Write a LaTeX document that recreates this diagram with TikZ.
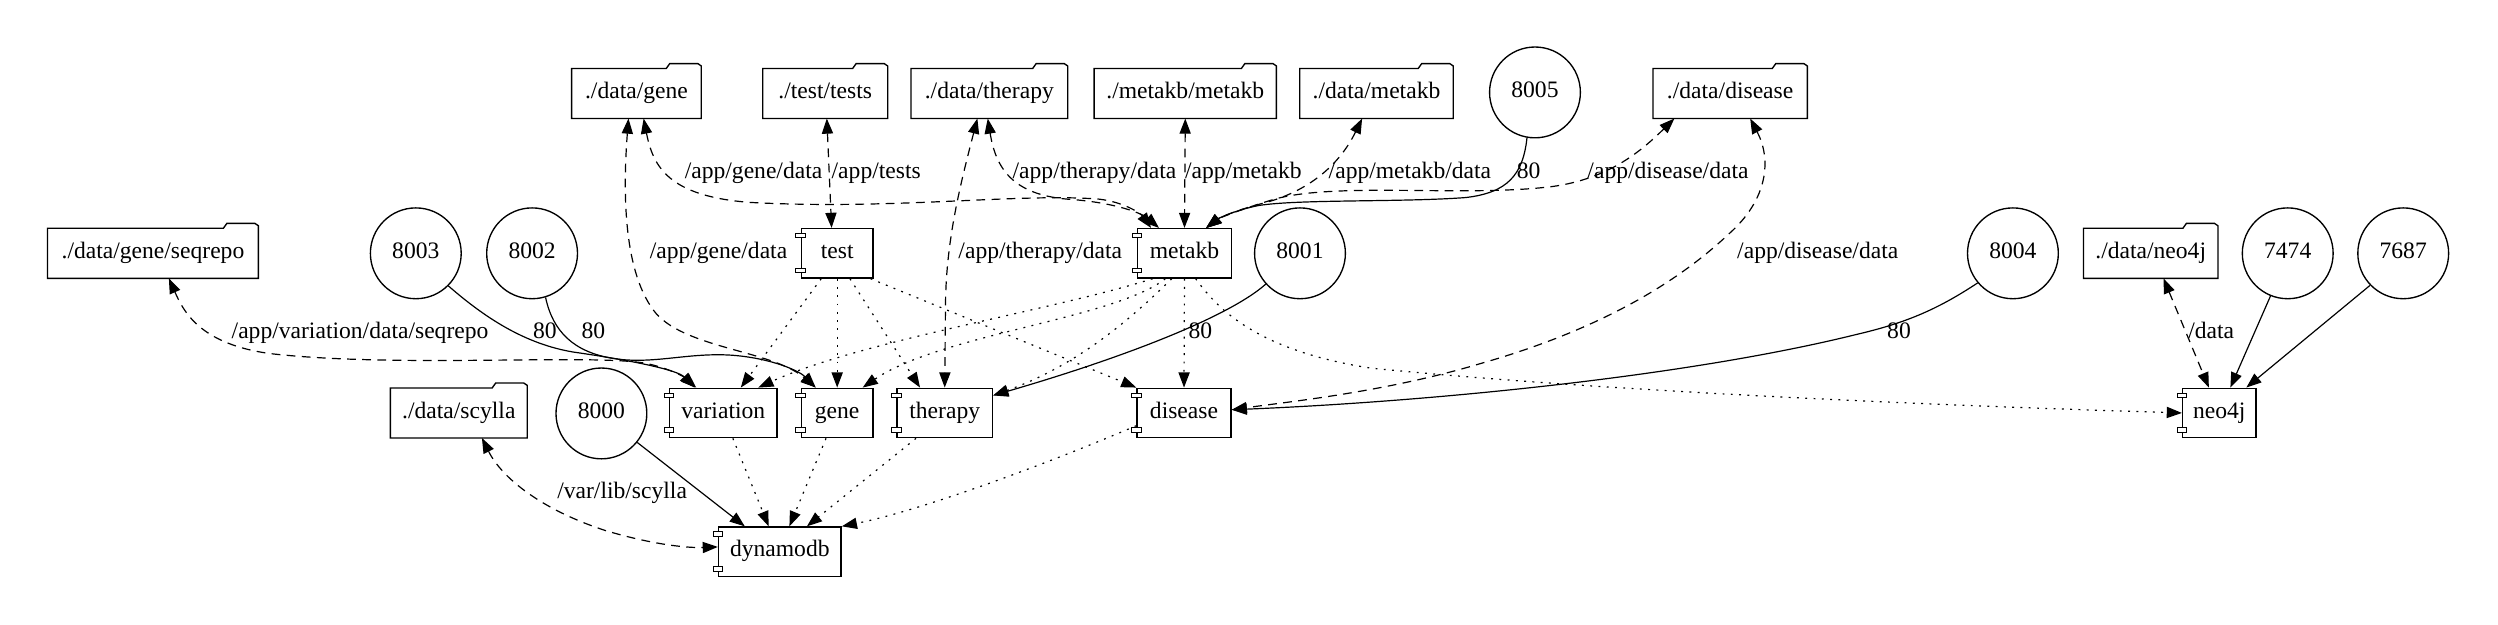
\documentclass[tikz,border=0pt]{standalone}
\usepackage{fontspec}
\setmainfont{Liberation Serif}
\usetikzlibrary{arrows.meta}
\begin{document}
\begin{tikzpicture}[x=1pt,y=-1pt,
  every node/.style={font=\fontsize{14.8}{17}\selectfont, inner sep=0pt, text height=10pt, text depth=3.5pt},
  folder/.style={minimum height=31pt},
  comp/.style={draw, line width=0.85pt, minimum height=31pt},
  port/.style={draw, circle, line width=0.85pt, minimum size=57pt},
  tip/.style={Triangle[length=9.5pt,width=7pt]},
  vol/.style={line width=0.75pt, dash pattern=on 5.5pt off 4pt, {Triangle[length=9.5pt,width=7pt]}-{Triangle[length=9.5pt,width=7pt]}},
  portedge/.style={line width=0.75pt, -{Triangle[length=9.5pt,width=7pt]}},
  dep/.style={line width=0.75pt, dash pattern=on 1.2pt off 4pt, -{Triangle[length=9.5pt,width=7pt]}},
]
\path[use as bounding box] (0,0) rectangle (1568,392);

% ---- top row
\node[folder, minimum width=81pt] (fgene) at (399.5,58.7) {./data/gene};
\node[folder, minimum width=78pt] (ftests) at (518,58.7) {./test/tests};
\node[folder, minimum width=98pt] (ftherapy) at (621,58.7) {./data/therapy};
\node[folder, minimum width=114pt] (fmm) at (744,58.7) {./metakb/metakb};
\node[folder, minimum width=96pt] (fmetakb) at (864,58.7) {./data/metakb};
\node[port] (p8005) at (963.5,58) {8005};
\node[folder, minimum width=96.5pt] (fdisease) at (1086,58.7) {./data/disease};

% ---- second row
\node[folder, minimum width=132pt] (fseq) at (96,159) {./data/gene/seqrepo};
\node[port] (p8003) at (261,159) {8003};
\node[port] (p8002) at (334,159) {8002};
\node[comp, minimum width=45pt] (test) at (525.5,159) {test};
\node[comp, minimum width=59pt] (metakb) at (743.5,159) {metakb};
\node[port] (p8001) at (816,159) {8001};
\node[port] (p8004) at (1263.5,159) {8004};
\node[folder, minimum width=84pt] (fneo) at (1350,159) {./data/neo4j};
\node[port] (p7474) at (1436,159) {7474};
\node[port] (p7687) at (1508.5,159) {7687};

% ---- third row
\node[folder, minimum width=85.5pt] (fscylla) at (288,259.2) {./data/scylla};
\node[port] (p8000) at (377.5,259.5) {8000};
\node[comp, minimum width=67.5pt] (variation) at (454,259.2) {variation};
\node[comp, minimum width=45pt] (gene) at (525.5,259.2) {gene};
\node[comp, minimum width=60pt] (therapy) at (593,259.2) {therapy};
\node[comp, minimum width=59pt] (disease) at (743.2,259.2) {disease};
\node[comp, minimum width=46pt] (neo4j) at (1393,259.2) {neo4j};

% ---- bottom
\node[comp, minimum width=77pt] (dynamodb) at (489.5,346.3) {dynamodb};

% folder outlines
\foreach \n in {fgene,ftests,ftherapy,fmm,fmetakb,fdisease,fseq,fneo,fscylla}
  \draw[line width=0.85pt] (\n.north west) -- ([xshift=-22pt]\n.north east) -- ++(2.2,-3.1) -- ++(17.6,0) -- ++(2.2,1.5) -- (\n.south east) -- (\n.south west) -- cycle;

% component ports
\foreach \n in {test,metakb,variation,gene,therapy,disease,neo4j,dynamodb} {
  \draw[line width=0.6pt, fill=white] ([yshift=-4.8pt]\n.north west) ++(-3,-1.4) rectangle ++(6,2.8);
  \draw[line width=0.6pt, fill=white] ([yshift=5.2pt]\n.south west) ++(-3,-1.4) rectangle ++(6,2.8);
}

% ---- edge labels
\node (l1) at (473,109) {/app/gene/data};
\node (l2) at (550,109) {/app/tests};
\node (l3) at (687,109) {/app/therapy/data};
\node (l4) at (780.5,109) {/app/metakb};
\node (l5) at (885,109) {/app/metakb/data};
\node (l6) at (959.5,109) {80};
\node (l7) at (1047,109) {/app/disease/data};
\node (l8) at (451,159) {/app/gene/data};
\node (l9) at (653,159) {/app/therapy/data};
\node (l10) at (1141,159) {/app/disease/data};
\node (l11) at (226,209) {/app/variation/data/seqrepo};
\node (l12) at (342,209) {80};
\node (l13) at (372.5,209) {80};
\node (l14) at (753.5,209) {80};
\node (l15) at (1192,209) {80};
\node (l16) at (1388,209) {/data};
\node (l17) at (390.5,309.5) {/var/lib/scylla};

% ---- volume edges (dashed, both ends)
\draw[vol] ([xshift=-5pt]fgene.south) .. controls (391,120) and (391,172) .. (412,197) .. controls (432,219) and (485,220) .. ([xshift=-13.5pt]gene.north);
\draw[vol] ([xshift=4.5pt]fgene.south) .. controls (410,105) and (420,123) .. (470,127) .. controls (560,132) and (640,121) .. (690,125) .. controls (706,127) and (716,134) .. ([xshift=-21pt]metakb.north);
\draw[vol] ([xshift=1pt]ftests.south) -- ([xshift=-3.5pt]test.north);
\draw[vol] ([xshift=-7.5pt]ftherapy.south) .. controls (603,115) and (594,150) .. (593.5,190) -- (therapy.north);
\draw[vol] ([xshift=-1pt]ftherapy.south) .. controls (625,105) and (635,122) .. (670,125) .. controls (700,127) and (717,134) .. ([xshift=-16pt]metakb.north);
\draw[vol] (fmm.south) -- (metakb.north);
\draw[vol] ([xshift=-9pt]fmetakb.south) .. controls (840,105) and (820,120) .. (795,127) .. controls (775,132) and (765,137) .. ([xshift=13.5pt]metakb.north);
\draw[vol] ([xshift=-35pt]fdisease.south) .. controls (1030,95) and (1010,112) .. (975,117) .. controls (920,124) and (840,114) .. (800,125) .. controls (780,131) and (765,137) .. ([xshift=13.5pt]metakb.north);
\draw[vol] ([xshift=12.6pt]fdisease.south) .. controls (1112,100) and (1110,125) .. (1085,147) .. controls (1050,180) and (1000,208) .. (930,228) .. controls (870,246) and (810,252) .. ([yshift=2pt]disease.east);
\draw[vol] ([xshift=10pt]fseq.south) .. controls (115,195) and (125,216) .. (170,222) .. controls (250,231) and (370,222) .. (405,228) .. controls (420,231) and (430,237) .. ([xshift=-17pt]variation.north);
\draw[vol] ([xshift=14.5pt]fscylla.south) .. controls (315,300) and (340,320) .. (380,333) .. controls (410,342) and (432,344) .. ([yshift=3pt]dynamodb.west);
\draw[vol] ([xshift=8pt]fneo.south) -- ([xshift=-6.5pt]neo4j.north);

% ---- port edges (solid)
\draw[portedge] (p8005.-100) .. controls (956,110) and (946,121) .. (920,124) .. controls (880,127) and (815,125) .. (790,129) .. controls (775,132) and (765,137) .. ([xshift=14pt]metakb.north);
\draw[portedge] (p8004.-140) .. controls (1215,195) and (1195,203) .. (1165,210) .. controls (1060,236) and (900,252) .. ([yshift=2pt]disease.east);
\draw[portedge] (p8003.-45) .. controls (305,200) and (330,216) .. (360,221) .. controls (395,226) and (425,232) .. ([xshift=-18pt]variation.north);
\draw[portedge] (p8002.-73) .. controls (347,208) and (360,221) .. (385,225) .. controls (410,229) and (432,221) .. (460,223) .. controls (485,225) and (502,233) .. ([xshift=-13.5pt]gene.north);
\draw[portedge] (p8001.-138) .. controls (770,200) and (700,226) .. ([yshift=11pt]therapy.east);
\draw[portedge] (p8000.-39) -- ([xshift=-22pt]dynamodb.north);
\draw[portedge] (p7474.-112) -- ([xshift=7pt]neo4j.north);
\draw[portedge] (p7687.-136) -- ([xshift=17pt]neo4j.north);

% ---- dependency edges (dotted)
\draw[dep] ([xshift=-10pt]test.south) -- ([xshift=11pt]variation.north);
\draw[dep] (test.south) -- (gene.north);
\draw[dep] ([xshift=8pt]test.south) -- ([xshift=-15.5pt]therapy.north);
\draw[dep] ([xshift=-2pt]test.south east) -- (disease.north west);
\draw[dep] ([xshift=-20pt]metakb.south) .. controls (660,195) and (540,214) .. ([xshift=22pt]variation.north);
\draw[dep] ([xshift=-12pt]metakb.south) .. controls (700,200) and (590,210) .. ([xshift=16pt]gene.north);
\draw[dep] ([xshift=-8pt]metakb.south) .. controls (715,195) and (680,228) .. ([yshift=11pt]therapy.east);
\draw[dep] (metakb.south) -- (disease.north);
\draw[dep] ([xshift=7pt]metakb.south) .. controls (765,195) and (790,220) .. (860,231) .. controls (1000,245) and (1200,254) .. (neo4j.west);
\draw[dep] ([xshift=6pt]variation.south) -- ([xshift=-7pt]dynamodb.north);
\draw[dep] ([xshift=-7pt]gene.south) -- ([xshift=6pt]dynamodb.north);
\draw[dep] ([xshift=-18pt]therapy.south) -- ([xshift=17pt]dynamodb.north);
\draw[dep] ([yshift=-8pt]disease.west) .. controls (660,290) and (580,320) .. (dynamodb.north east);
\end{tikzpicture}
\end{document}
